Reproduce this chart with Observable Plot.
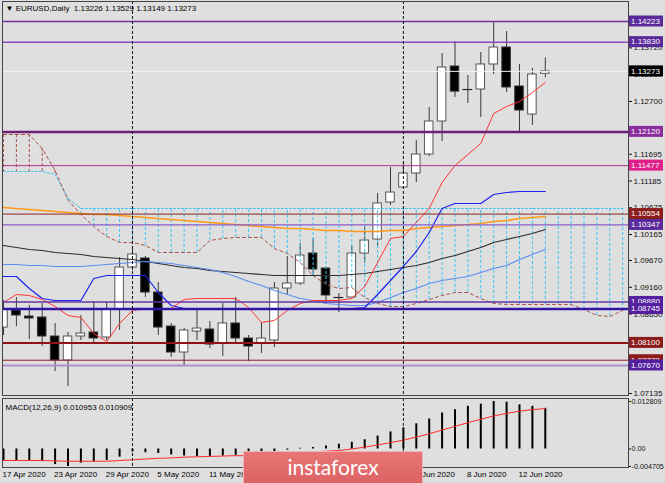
<!DOCTYPE html>
<html><head><meta charset="utf-8">
<script src="https://cdn.jsdelivr.net/npm/d3@7"></script>
<script src="https://cdn.jsdelivr.net/npm/@observablehq/plot@0.6"></script>
<style>
html,body{margin:0;padding:0;background:#dfdfdf;}
#wrap{position:relative;width:665px;height:483px;overflow:hidden;background:#dfdfdf;}
#wrap svg{display:block;}
#wm{position:absolute;left:243px;top:451px;width:178px;height:32px;background:linear-gradient(#e87676,#dc6262);border:1px solid #f4b4b4;border-bottom:none;color:#fff;font-family:Lato,"Open Sans",sans-serif;font-size:21px;text-align:center;line-height:30px;}
</style></head><body>
<div id="wrap"><div id="charts"></div><div id="wm">instaforex</div></div>
<script>
const symbol = "EURUSD,Daily";
const dates = ["17 Apr 2020","20 Apr 2020","21 Apr 2020","22 Apr 2020","23 Apr 2020","24 Apr 2020","27 Apr 2020","28 Apr 2020","29 Apr 2020","30 Apr 2020",
"1 May 2020","4 May 2020","5 May 2020","6 May 2020","7 May 2020","8 May 2020","11 May 2020","12 May 2020","13 May 2020","14 May 2020","15 May 2020",
"18 May 2020","19 May 2020","20 May 2020","21 May 2020","22 May 2020","25 May 2020","26 May 2020","27 May 2020","28 May 2020","29 May 2020",
"1 Jun 2020","2 Jun 2020","3 Jun 2020","4 Jun 2020","5 Jun 2020","8 Jun 2020","9 Jun 2020","10 Jun 2020","11 Jun 2020","12 Jun 2020","15 Jun 2020","16 Jun 2020"];
const open  = [1.08393,1.08717,1.08603,1.08584,1.08222,1.07765,1.08222,1.08298,1.08203,1.08736,1.09536,1.09708,1.09060,1.08412,1.07917,1.08317,1.08355,1.08088,1.08470,1.08184,1.08088,1.08146,1.09136,1.09232,1.09803,1.09517,1.08965,1.08965,1.09803,1.10070,1.10775,1.11060,1.11327,1.11689,1.12318,1.13366,1.12927,1.12927,1.13404,1.13728,1.12985,1.12451,1.13226];
const high  = [1.08908,1.08965,1.08817,1.08850,1.08470,1.08298,1.08622,1.08889,1.08869,1.09727,1.09937,1.09746,1.09251,1.08470,1.08374,1.08755,1.08508,1.08850,1.08965,1.08241,1.08489,1.09251,1.09746,1.09994,1.10089,1.09536,1.09041,1.09955,1.10298,1.10946,1.11441,1.11537,1.11956,1.12585,1.13613,1.13842,1.13194,1.13632,1.14223,1.14032,1.13404,1.13328,1.13529];
const low   = [1.08241,1.08412,1.08165,1.08031,1.07555,1.07269,1.08146,1.08108,1.08146,1.08336,1.09479,1.08965,1.08241,1.07822,1.07670,1.08146,1.07993,1.07841,1.08108,1.07746,1.07898,1.08012,1.09022,1.09194,1.09384,1.08850,1.08679,1.08965,1.09613,1.09917,1.10718,1.11022,1.11156,1.11651,1.11937,1.12775,1.12661,1.12394,1.13213,1.12870,1.12120,1.12242,1.13149];
const close = [1.08736,1.08622,1.08565,1.08222,1.07765,1.08222,1.08279,1.08184,1.08736,1.09536,1.09784,1.09060,1.08393,1.07917,1.08336,1.08374,1.08069,1.08470,1.08184,1.08031,1.08184,1.09136,1.09232,1.09765,1.09498,1.09003,1.08965,1.09803,1.10051,1.10756,1.10965,1.11327,1.11689,1.12318,1.13347,1.12887,1.12927,1.13404,1.13728,1.12966,1.12527,1.13213,1.13273];

const tenkan = [1.08870,1.09022,1.09003,1.08927,1.08793,1.08622,1.08584,1.08279,1.08126,1.08470,1.08717,1.08755,1.08755,1.08755,1.08927,1.08946,1.08946,1.08946,1.08946,1.08774,1.08489,1.08527,1.08717,1.08851,1.08908,1.08908,1.08908,1.08946,1.09174,1.09632,1.10089,1.10127,1.10394,1.10660,1.11156,1.11479,1.11689,1.11900,1.12470,1.12604,1.12699,1.12870,1.13061];
const kijun = [1.09365,1.09365,1.09136,1.08946,1.08908,1.08908,1.08908,1.09327,1.09384,1.09384,1.09384,1.09384,1.09060,1.08813,1.08755,1.08755,1.08755,1.08755,1.08755,1.08755,1.08755,1.08755,1.08755,1.08755,1.08755,1.08755,1.08755,1.08755,1.08774,1.09022,1.09289,1.09556,1.09841,1.10203,1.10660,1.10756,1.10756,1.10756,1.10927,1.10965,1.10984,1.10984,1.10984];
const spanA = [1.12070,1.12070,1.12070,1.11803,1.11384,1.10821,1.10546,1.10318,1.10127,1.10013,1.10013,1.09956,1.09822,1.09822,1.09822,1.09822,1.10051,1.10089,1.10108,1.10108,1.10108,1.09898,1.09803,1.09632,1.09384,1.09213,1.09136,1.09155,1.08965,1.08851,1.08793,1.08793,1.08851,1.08927,1.09003,1.09060,1.09060,1.08946,1.08851,1.08832,1.08832,1.08832,1.08832,1.08832,1.08832,1.08736,1.08622,1.08603,1.08717];
const spanB = [1.11365,1.11365,1.11365,1.11365,1.11308,1.10851,1.10660,1.10660,1.10660,1.10660,1.10660,1.10660,1.10660,1.10660,1.10660,1.10660,1.10660,1.10660,1.10660,1.10660,1.10660,1.10660,1.10660,1.10660,1.10660,1.10660,1.10660,1.10660,1.10660,1.10660,1.10660,1.10660,1.10660,1.10660,1.10660,1.10660,1.10660,1.10660,1.10660,1.10660,1.10660,1.10660,1.10660,1.10660,1.10660,1.10660,1.10660,1.10660,1.10660];
const maOrange = [1.10679,1.10660,1.10641,1.10622,1.10603,1.10584,1.10564,1.10545,1.10545,1.10526,1.10507,1.10488,1.10469,1.10450,1.10431,1.10412,1.10393,1.10374,1.10355,1.10336,1.10317,1.10298,1.10279,1.10279,1.10260,1.10241,1.10241,1.10222,1.10222,1.10222,1.10241,1.10241,1.10279,1.10298,1.10317,1.10336,1.10355,1.10374,1.10412,1.10431,1.10469,1.10488,1.10507];
const maBlack = [1.09956,1.09917,1.09879,1.09860,1.09822,1.09803,1.09784,1.09746,1.09727,1.09708,1.09689,1.09651,1.09613,1.09575,1.09537,1.09517,1.09479,1.09460,1.09441,1.09422,1.09403,1.09384,1.09384,1.09384,1.09384,1.09384,1.09384,1.09403,1.09422,1.09460,1.09498,1.09537,1.09575,1.09632,1.09708,1.09765,1.09841,1.09917,1.10013,1.10070,1.10127,1.10184,1.10260];
const maBlue = [1.09594,1.09594,1.09575,1.09575,1.09556,1.09556,1.09556,1.09575,1.09594,1.09613,1.09632,1.09651,1.09632,1.09613,1.09575,1.09537,1.09498,1.09441,1.09365,1.09270,1.09194,1.09098,1.09022,1.08946,1.08908,1.08851,1.08832,1.08813,1.08813,1.08870,1.08965,1.09060,1.09136,1.09232,1.09289,1.09327,1.09365,1.09441,1.09517,1.09575,1.09689,1.09784,1.09879];

const macd = [-0.0031,-0.0031,-0.0031,-0.0034,-0.0042,-0.004705,-0.0038,-0.0035,-0.0031,-0.0022,-0.0008,-0.0010,-0.0012,-0.0016,-0.0019,-0.0020,-0.0020,-0.0019,-0.0017,-0.0016,-0.0014,-0.0008,-0.0003,0.0002,0.0004,0.0008,0.0013,0.0018,0.0025,0.0035,0.0046,0.0057,0.0068,0.0081,0.0097,0.0106,0.0115,0.0121,0.012809,0.0126,0.0119,0.0115,0.010953];
const signal = [-0.0031,-0.0031,-0.0031,-0.0031,-0.0032,-0.0033,-0.0033,-0.0033,-0.0033,-0.0031,-0.0029,-0.0027,-0.0025,-0.0024,-0.0022,-0.0021,-0.0020,-0.0019,-0.0018,-0.0018,-0.0017,-0.0015,-0.0013,-0.0011,-0.0008,-0.0006,-0.0004,0.0000,0.0005,0.0011,0.0017,0.0024,0.0032,0.0041,0.0051,0.0061,0.0071,0.0080,0.0089,0.0096,0.0102,0.0106,0.010909];

const levels = [1.14223,1.13830,1.13273,1.12120,1.11477,1.10554,1.10347,1.08880,1.08745,1.08100,1.07770,1.07670];
const priceTicks = [1.13720,1.13210,1.12700,1.12190,1.11695,1.11185,1.10675,1.10165,1.09670,1.09160,1.08650,1.07135];
const macdTicks = [0.012809,0,-0.004705];
const dateTicks = ["17 Apr 2020","23 Apr 2020","29 Apr 2020","5 May 2020","11 May 2020","15 May 2020","21 May 2020","27 May 2020","2 Jun 2020","8 Jun 2020","12 Jun 2020"];

// styles (kept apart from data)
const levelLine  = ["#7232a8","#8a4cc4","#f4f4f6","#6e1f78","#b2348e","#8c2424","#8a5ccc","#6234a4","#3414a4","#8e1414","#8c2222","#ab8fcc"];
const levelWidth = [1.5,1.5,1,2.5,1,1,1.2,1.5,2.5,2,1,2];
const levelBox   = ["#5a2a9c","#5a2a9c","#000000","#8c2c9c","#de2088","#8c1c1c","#5a2a9c","#5420a0","#5420a0","#8c1c1c","#8c1c1c","#5420a0"];

const FONT = '"Liberation Sans", Arial, sans-serif';
const N = dates.length;
const idx = d3.range(N);
const candles = idx.map(i => ({i, o: open[i], h: high[i], l: low[i], c: close[i]}));
const bull = candles.filter(d => d.c > d.o);
const bear = candles.filter(d => d.c < d.o);
const doji = candles.filter(d => d.c === d.o);
const cloud = d3.range(spanA.length).map(i => ({i, a: spanA[i], b: spanB[i]}));
const month = s => s.split(" ")[1];
const seps = idx.filter(i => i > 0 && month(dates[i]) !== month(dates[i - 1]));
const xDomain = [-0.0775, 48.45];
const W = 665;
const f5 = d3.format(".5f");

const lineOf = (arr, stroke, w) => Plot.line(idx, {x: i => i, y: i => arr[i], stroke, strokeWidth: w, clip: true});

const main = Plot.plot({
  width: W, height: 397,
  marginLeft: 2, marginRight: 37, marginTop: 1, marginBottom: 2,
  style: {background: "#dfdfdf", fontFamily: FONT, fontSize: "8px", color: "#111", overflow: "visible"},
  x: {domain: xDomain, axis: null},
  y: {domain: [1.07098, 1.14604], axis: "right", ticks: priceTicks, tickFormat: f5, tickSize: 3, tickPadding: 2, label: null},
  marks: [
    Plot.ruleX(candles, {x: "i", y1: "l", y2: "h", stroke: "#3a3a3a", strokeWidth: 1, clip: true}),
    Plot.rect(bull, {x1: d => d.i - 0.33, x2: d => d.i + 0.33, y1: "o", y2: "c", fill: "#fff", stroke: "#555", strokeWidth: 1, clip: true}),
    Plot.rect(bear, {x1: d => d.i - 0.33, x2: d => d.i + 0.33, y1: "o", y2: "c", fill: "#000", stroke: "#333", strokeWidth: 1, clip: true}),
    Plot.ruleY(doji, {y: "c", x1: d => d.i - 0.38, x2: d => d.i + 0.38, stroke: "#222", strokeWidth: 1.2}),
    Plot.ruleX(cloud.filter(d => d.a > d.b), {x: "i", y1: "a", y2: "b", stroke: "#a8504a", strokeWidth: 1, strokeDasharray: "3,2", clip: true}),
    Plot.ruleX(cloud.filter(d => d.a <= d.b), {x: "i", y1: "a", y2: "b", stroke: "#3cc4f4", strokeWidth: 1, strokeDasharray: "3,2", clip: true}),
    Plot.line(cloud, {x: "i", y: "b", stroke: "#3cc4f4", strokeWidth: 1, strokeDasharray: "2,2", clip: true}),
    Plot.line(cloud, {x: "i", y: "a", stroke: "#a8504a", strokeWidth: 1, strokeDasharray: "3,3", clip: true}),
    lineOf(maOrange, "#ff9a18", 1.6),
    lineOf(maBlack, "#2c2c2c", 1.2),
    lineOf(maBlue, "#5b8cf0", 1.1),
    lineOf(kijun, "#1a22ee", 1.2),
    lineOf(tenkan, "#ff3535", 1),
    ...levels.map((v, k) => Plot.ruleY([v], {stroke: levelLine[k], strokeWidth: levelWidth[k]})),
    Plot.ruleX(seps, {stroke: "#111", strokeWidth: 1, strokeDasharray: "3,2"}),
    Plot.frame({stroke: "#444"}),
    Plot.text([`\u25BC ${symbol}  ${f5(open[N-1])} ${f5(high[N-1])} ${f5(low[N-1])} ${f5(close[N-1])}`],
      {frameAnchor: "top-left", dx: 3, dy: 7, textAnchor: "start", lineAnchor: "middle", fill: "#000", fontSize: 8})
  ]
});

// price labels of horizontal levels, positioned with the plot's y scale
const ys = main.scale("y");
const gl = d3.select(main).append("g").attr("font-family", FONT).attr("font-size", 8).attr("text-anchor", "start");
levels.forEach((v, k) => {
  const y = ys.apply(v);
  gl.append("rect").attr("x", 629).attr("y", y - 5.5).attr("width", 34).attr("height", 11).attr("fill", levelBox[k]);
  gl.append("text").attr("x", 631).attr("y", y).attr("dy", "0.35em").attr("text-anchor", "start").attr("fill", "#fff").text(f5(v));
});

const macdPlot = Plot.plot({
  width: W, height: 86,
  marginLeft: 2, marginRight: 37, marginTop: 1, marginBottom: 16,
  style: {background: "#dfdfdf", fontFamily: FONT, fontSize: "7.2px", color: "#111", overflow: "visible"},
  x: {domain: xDomain, axis: null},
  y: {domain: [-0.004985, 0.013608], axis: "right", ticks: macdTicks, tickFormat: d => d === 0 ? "0.00" : d.toFixed(6), tickSize: 2, tickPadding: 1, label: null},
  marks: [
    Plot.ruleX(idx, {x: i => i, y1: 0, y2: i => macd[i], stroke: "#000", strokeWidth: 2}),
    Plot.line(idx, {x: i => i, y: i => signal[i], stroke: "#ff2a2a", strokeWidth: 1}),
    Plot.ruleX(seps, {stroke: "#111", strokeWidth: 1, strokeDasharray: "3,2"}),
    Plot.frame({stroke: "#444"}),
    Plot.text([`MACD(12,26,9) ${macd[N-1].toFixed(6)} ${signal[N-1].toFixed(6)}`],
      {frameAnchor: "top-left", dx: 3, dy: 9, textAnchor: "start", lineAnchor: "middle", fill: "#000", fontSize: 8}),
    Plot.text(dateTicks, {x: d => dates.indexOf(d), frameAnchor: "bottom", dy: 7, dx: -1, textAnchor: "start", lineAnchor: "middle", fill: "#000", fontSize: 8})
  ]
});

document.getElementById("charts").append(main, macdPlot);
</script>
</body></html>
